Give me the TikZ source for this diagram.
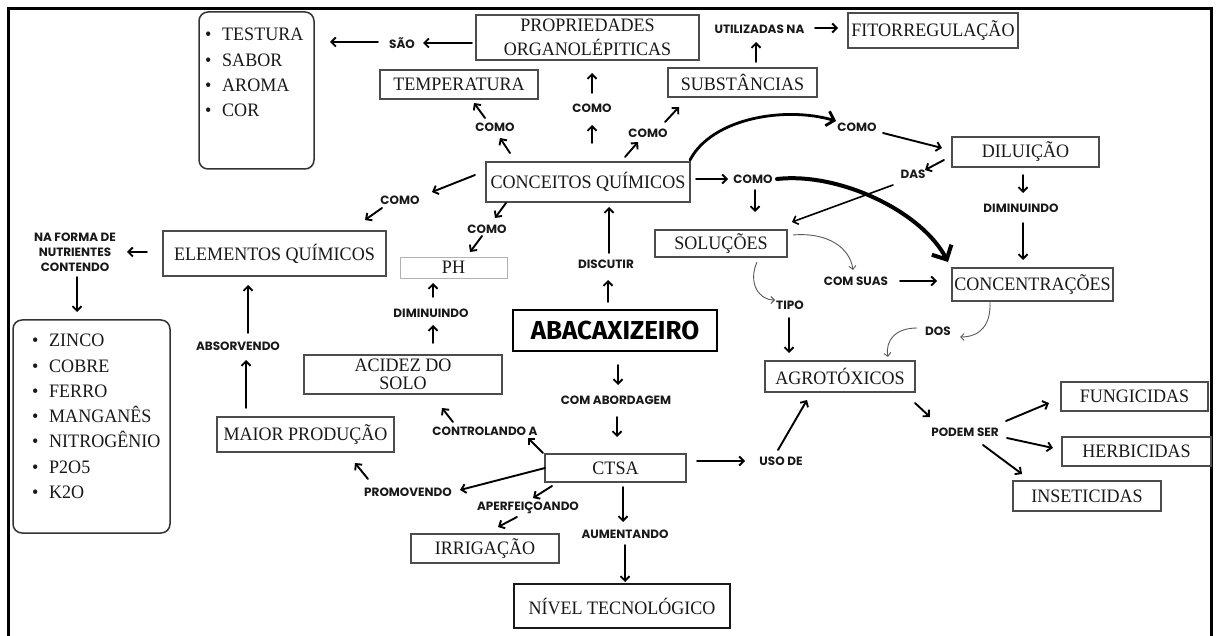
\documentclass[tikz,border=0pt]{standalone}
\usepackage{fontspec}
\setmainfont{Liberation Serif}[FakeStretch=0.95]
\newfontfamily\labfont{Poppins}
\newfontfamily\abafont{Fira Sans}
\usetikzlibrary{arrows.meta,calc}
\newcommand{\bul}{\makebox[17pt][l]{\textbullet}}
\tikzset{
 box/.style={draw=black!70, line width=1.1pt, text=black!90, inner sep=0pt, align=center, font=\fontsize{19}{19}\selectfont},
 lab/.style={font=\labfont\bfseries\fontsize{12}{15}\selectfont, inner sep=1pt, align=center, text=black!90},
 arr/.style={line width=1.9pt, line cap=round, -{Straight Barb[length=4.5pt,width=9pt]}},
 tarr/.style={draw=black!65, line width=0.9pt, -{Straight Barb[length=3.5pt,width=7pt]}},
 thk/.style={line width=3.2pt, line cap=round},
 lbox/.style={draw=black!80, line width=1.5pt, rounded corners=9pt},
 ltext/.style={inner sep=0pt, align=left, font=\fontsize{19}{25.3}\selectfont, text=black!90},
}
\begin{document}
\begin{tikzpicture}[x=1pt,y=-1pt]
\useasboundingbox (0,0) rectangle (1216,636);
\clip (0,0) rectangle (1216,636);
\fill[white] (0,0) rectangle (1216,636);
\draw[line width=3.5pt] (8.5,8.5) rectangle (1211.5,660);

% boxes
\node[box, minimum width=223pt, minimum height=45pt, font=\fontsize{19}{24}\selectfont] (prop) at (587.5,37.5) {PROPRIEDADES\\ORGANOLÉPITICAS};
\node[box, minimum width=158pt, minimum height=29pt] (temp) at (459,84.5) {TEMPERATURA};
\node[box, minimum width=149pt, minimum height=29pt] (subs) at (742.5,82.5) {SUBSTÂNCIAS};
\node[box, minimum width=170pt, minimum height=35pt] (fito) at (933,30.5) {FITORREGULAÇÃO};
\node[box, minimum width=204pt, minimum height=40pt] (conc) at (588,182) {CONCEITOS QUÍMICOS};
\node[box, minimum width=147pt, minimum height=30pt] (dil) at (1025.5,152) {DILUIÇÃO};
\node[box, minimum width=132pt, minimum height=27pt] (sol) at (721,243.5) {SOLUÇÕES};
\node[box, minimum width=161pt, minimum height=33pt] (concen) at (1032.5,284.5) {CONCENTRAÇÕES};
\node[box, minimum width=223pt, minimum height=45pt] (elem) at (274.5,253.5) {ELEMENTOS QUÍMICOS};
\node[box, draw=black!30, line width=0.9pt, minimum width=107pt, minimum height=21pt] (ph) at (453.5,267.5) {PH};
\node[box, minimum width=198pt, minimum height=39pt, font=\fontsize{19}{18}\selectfont] (acid) at (403,374.5) {ACIDEZ DO\\SOLO};
\node[box, draw=black, line width=2pt, minimum width=204pt, minimum height=41pt, text=black, font=\abafont\bfseries\fontsize{26}{26}\selectfont] (abac) at (615,330.5) {ABACAXIZEIRO};
\node[box, minimum width=177pt, minimum height=35pt] (maior) at (305.5,434.5) {MAIOR PRODUÇÃO};
\node[box, minimum width=141pt, minimum height=28pt] (ctsa) at (615.5,468) {CTSA};
\node[box, minimum width=148pt, minimum height=29pt] (irr) at (485,548.5) {IRRIGAÇÃO};
\node[box, draw=black!90, line width=1.8pt, minimum width=216pt, minimum height=44pt] (nivel) at (622,606) {NÍVEL TECNOLÓGICO};
\node[box, minimum width=150pt, minimum height=31pt] (agro) at (840,376.5) {AGROTÓXICOS};
\node[box, minimum width=147pt, minimum height=29pt] (fung) at (1134.5,396.5) {FUNGICIDAS};
\node[box, minimum width=149pt, minimum height=29pt] (herb) at (1136.5,451.5) {HERBICIDAS};
\node[box, minimum width=148pt, minimum height=30pt] (inse) at (1087,496) {INSETICIDAS};

% lists
\node[lbox, minimum width=115pt, minimum height=157pt] (list1) at (256.5,90.5) {};
\node[ltext, anchor=north west] (list1t) at (205,28) {\bul TESTURA\\\bul SABOR\\\bul AROMA\\\bul COR};
\node[lbox, minimum width=157pt, minimum height=213pt] (list2) at (91.5,426.5) {};
\node[ltext, anchor=north west] (list2t) at (32,334) {\bul ZINCO\\\bul COBRE\\\bul FERRO\\\bul MANGANÊS\\\bul NITROGÊNIO\\\bul P2O5\\\bul K2O};

% labels
\node[lab] (sao) at (402,43) {SÃO};
\node[lab] (util) at (759.5,29) {UTILIZADAS NA};
\node[lab] (como_prop) at (592,108) {COMO};
\node[lab] (como_temp) at (495,127) {COMO};
\node[lab] (como_subs) at (648,133) {COMO};
\node[lab] (como_elem) at (400,200) {COMO};
\node[lab] (como_ph) at (487,229) {COMO};
\node[lab] (como_r) at (753,179) {COMO};
\node[lab] (como_up) at (857,127) {COMO};
\node[lab] (das) at (913,174) {DAS};
\node[lab] (dimin_r) at (1021,208) {DIMINUINDO};
\node[lab] (comsuas) at (856,281) {COM SUAS};
\node[lab] (tipo) at (790,305) {TIPO};
\node[lab] (dos) at (938,331) {DOS};
\node[lab] (podem) at (965,432) {PODEM SER};
\node[lab] (usode) at (781,461) {USO DE};
\node[lab] (discutir) at (606,264) {DISCUTIR};
\node[lab] (dimin_l) at (431,313) {DIMINUINDO};
\node[lab] (comabord) at (616,400) {COM ABORDAGEM};
\node[lab] (controlando) at (485,431) {CONTROLANDO A};
\node[lab] (promovendo) at (408,492) {PROMOVENDO};
\node[lab] (aperf) at (528,508) {APERFEIÇOANDO};
\node[lab] (aument) at (625,534) {AUMENTANDO};
\node[lab] (absorv) at (238,346) {ABSORVENDO};
\node[lab] (naforma) at (75,252) {NA FORMA DE\\NUTRIENTES\\CONTENDO};

% straight arrows
\draw[arr] ([shift={(-115.5,5.5)}]prop.center) -- ([shift={(21,0)}]sao.center);
\draw[arr] ([shift={(-24,-1)}]sao.center) -- ([shift={(73.5,-48.5)}]list1.center);
\draw[arr] ([shift={(4,-39)}]conc.center) -- ([shift={(0,17)}]como_prop.center);
\draw[arr] ([shift={(0,-15)}]como_prop.center) -- ([shift={(4.5,35.5)}]prop.center);
\draw[arr] ([shift={(-78,-29)}]conc.center) -- ([shift={(5,11)}]como_temp.center);
\draw[arr] ([shift={(-10,-9)}]como_temp.center) -- ([shift={(15,18.5)}]temp.center);
\draw[arr] ([shift={(37,-25)}]conc.center) -- ([shift={(-10,9)}]como_subs.center);
\draw[arr] ([shift={(17,-11)}]como_subs.center) -- ([shift={(-63.5,24.5)}]subs.center);
\draw[arr] ([shift={(13.5,-20.5)}]subs.center) -- ([shift={(-3.5,13)}]util.center);
\draw[arr] ([shift={(55.5,-1)}]util.center) -- ([shift={(-95,-2.5)}]fito.center);
\draw[arr] ([shift={(-113,-7)}]conc.center) -- ([shift={(32,-8)}]como_elem.center);
\draw[arr] ([shift={(-18,8)}]como_elem.center) -- ([shift={(90.5,-33.5)}]elem.center);
\draw[arr] ([shift={(-82,21)}]conc.center) -- ([shift={(8,-11)}]como_ph.center);
\draw[arr] ([shift={(-5,7)}]como_ph.center) -- ([shift={(16.5,-15.5)}]ph.center);
\draw[arr] ([shift={(-127.5,-1.5)}]elem.center) -- ([shift={(52,0)}]naforma.center);
\draw[arr] ([shift={(2,25)}]naforma.center) -- ([shift={(-14.5,-114.5)}]list2.center);
\draw[arr] ([shift={(2,-16)}]dimin_l.center) -- ([shift={(-20.5,15.5)}]ph.center);
\draw[arr] ([shift={(30,-31.5)}]acid.center) -- ([shift={(2,12)}]dimin_l.center);
\draw[arr] ([shift={(10,-13)}]absorv.center) -- ([shift={(-26.5,31.5)}]elem.center);
\draw[arr] ([shift={(-59.5,-26.5)}]maior.center) -- ([shift={(8,14)}]absorv.center);
\draw[arr] ([shift={(-7,-28.5)}]abac.center) -- ([shift={(2,16)}]discutir.center);
\draw[arr] ([shift={(3,-11)}]discutir.center) -- ([shift={(21,25)}]conc.center);
\draw[arr] ([shift={(3,34.5)}]abac.center) -- ([shift={(2,-15)}]comabord.center);
\draw[arr] ([shift={(1,17)}]comabord.center) -- ([shift={(1.5,-31)}]ctsa.center);
\draw[arr] ([shift={(-72.5,-15)}]ctsa.center) -- ([shift={(43,7)}]controlando.center);
\draw[arr] ([shift={(-32,-9)}]controlando.center) -- ([shift={(39,33.5)}]acid.center);
\draw[arr] ([shift={(-70.5,0)}]ctsa.center) -- ([shift={(52,-2)}]promovendo.center);
\draw[arr] ([shift={(-40,-13)}]promovendo.center) -- ([shift={(49.5,28.5)}]maior.center);
\draw[arr] ([shift={(-63.5,18)}]ctsa.center) -- ([shift={(5,-10)}]aperf.center);
\draw[arr] ([shift={(-11,9)}]aperf.center) -- ([shift={(13,-21.5)}]irr.center);
\draw[arr] ([shift={(7.5,19)}]ctsa.center) -- ([shift={(-2,-12)}]aument.center);
\draw[arr] ([shift={(0,11)}]aument.center) -- ([shift={(3,-24)}]nivel.center);
\draw[arr] ([shift={(81.5,-7)}]ctsa.center) -- ([shift={(-36,0)}]usode.center);
\draw[arr] ([shift={(-3,-11)}]usode.center) -- ([shift={(-33,23.5)}]agro.center);
\draw[arr] ([shift={(-1,13)}]tipo.center) -- ([shift={(-51,-23.5)}]agro.center);
\draw[arr] ([shift={(108,-3)}]conc.center) -- ([shift={(-25,0)}]como_r.center);
\draw[arr] ([shift={(2,11)}]como_r.center) -- ([shift={(34,-31.5)}]sol.center);
\draw[arr] ([shift={(26,6)}]como_up.center) -- ([shift={(-83.5,-4)}]dil.center);
\draw[arr] ([shift={(-81.5,8)}]dil.center) -- ([shift={(12,-4)}]das.center);
\draw[arr, line width=1.6pt] ([shift={(-20,11)}]das.center) -- ([shift={(71,-21.5)}]sol.center);
\draw[arr] ([shift={(-2.5,23)}]dil.center) -- ([shift={(2,-15)}]dimin_r.center);
\draw[arr] ([shift={(2,15)}]dimin_r.center) -- ([shift={(-9.5,-24.5)}]concen.center);
\draw[arr] ([shift={(44,0)}]comsuas.center) -- ([shift={(-95.5,-3.5)}]concen.center);
\draw[arr] ([shift={(75,26.5)}]agro.center) -- ([shift={(-35,-15)}]podem.center);
\draw[arr] ([shift={(41,-11)}]podem.center) -- ([shift={(-85.5,6.5)}]fung.center);
\draw[arr] ([shift={(42,6)}]podem.center) -- ([shift={(-83.5,-3.5)}]herb.center);
\draw[arr] ([shift={(18,13)}]podem.center) -- ([shift={(-65,-22)}]inse.center);

% thick curved arrows
\draw[thk, line width=4pt, -{Straight Barb[length=11pt,width=22pt]}] ([shift={(24,0)}]como_r.center) .. controls (840,172) and (922,212) .. ([shift={(-84.5,-22.5)}]concen.center);
\draw[thk, line width=2.8pt, -{Straight Barb[length=7pt,width=15pt]}] ([shift={(102,-22)}]conc.center) .. controls (712,118) and (785,106) .. ([shift={(-21,-6)}]como_up.center);

% thin curved arrows
\draw[tarr] ([shift={(36,18.5)}]sol.center) .. controls (748,282) and (758,300) .. ([shift={(-15,-5)}]tipo.center);
\draw[tarr] ([shift={(72,-8.5)}]sol.center) .. controls (828,232) and (850,248) .. ([shift={(-3,-11)}]comsuas.center);
\draw[tarr] ([shift={(-42.5,17.5)}]concen.center) .. controls (991,325) and (980,337) .. ([shift={(22,6)}]dos.center);
\draw[tarr] ([shift={(-21,-3)}]dos.center) .. controls (896,328) and (885,340) .. ([shift={(48,-19.5)}]agro.center);
\end{tikzpicture}
\end{document}
